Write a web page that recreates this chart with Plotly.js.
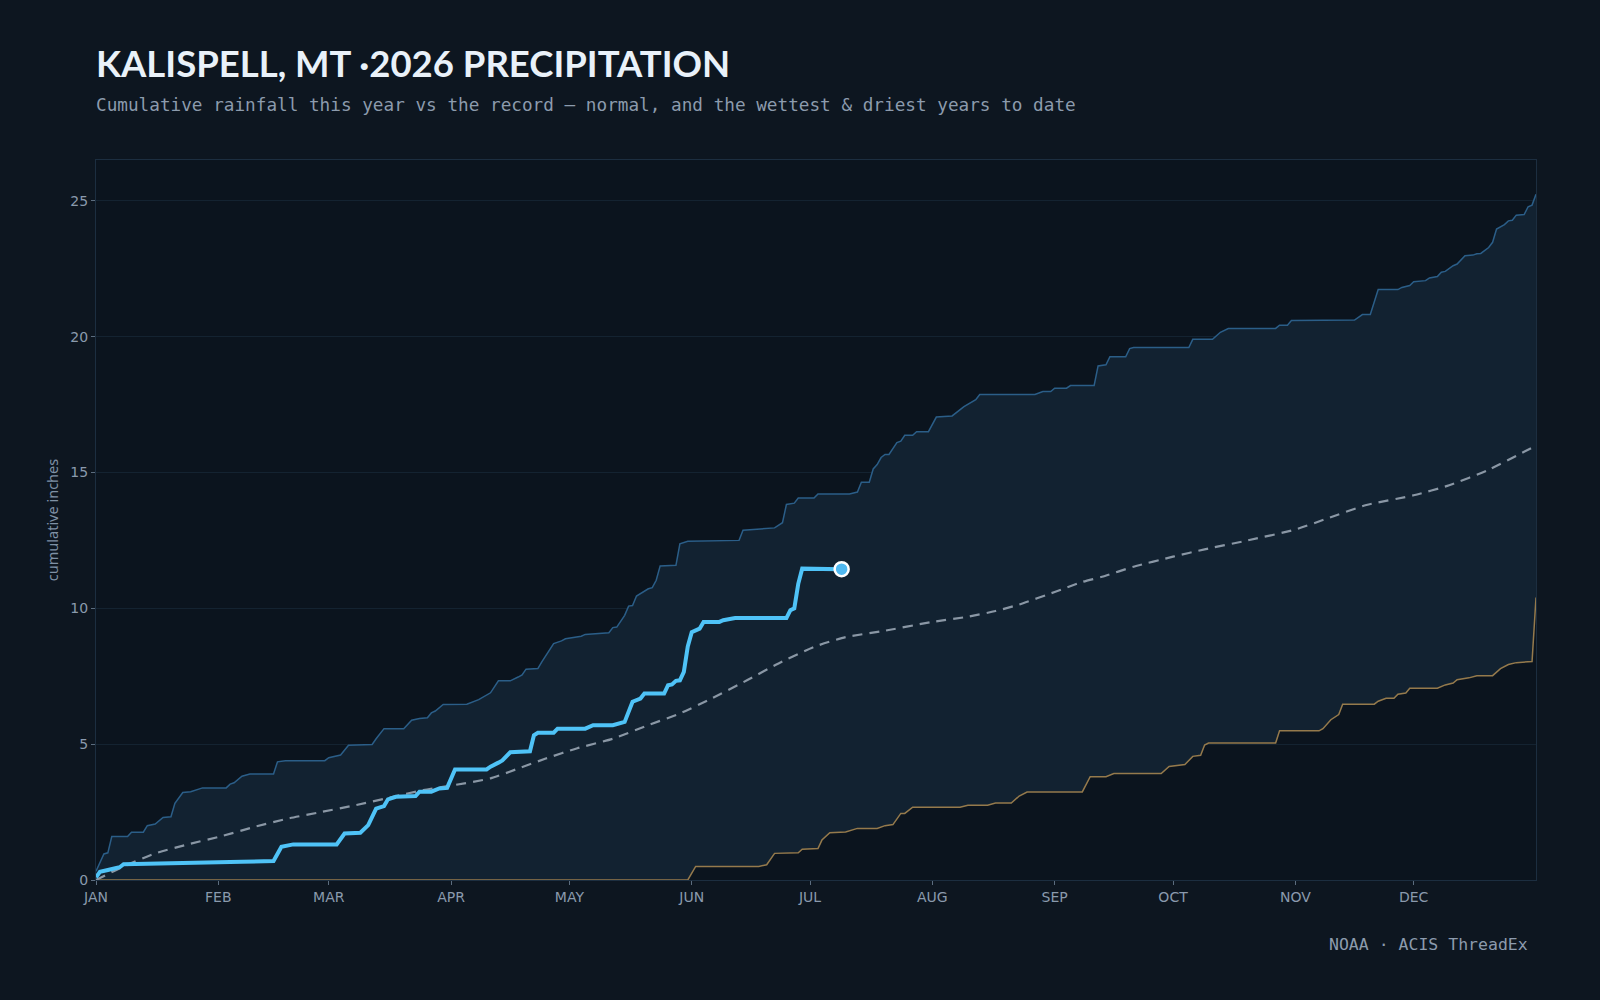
<!DOCTYPE html>
<html>
<head>
<meta charset="utf-8">
<script src="https://cdn.plot.ly/plotly-3.0.1.min.js"></script>
<style>
  html, body { margin: 0; padding: 0; background: #0d1620; }
  #chart { width: 1600px; height: 1000px; }
</style>
</head>
<body>
<div id="chart"></div>
<script>
// ---- month axis ----
const monthStartDays = [0, 31, 59, 90, 120, 151, 181, 212, 243, 273, 304, 334];
const monthLabels = ["JAN", "FEB", "MAR", "APR", "MAY", "JUN", "JUL", "AUG", "SEP", "OCT", "NOV", "DEC"];
const yTicks = [0, 5, 10, 15, 20, 25];

// ---- 2026 year to date (day of year, cumulative inches) ----
const thisYearDay = [0, 1, 3, 5, 6, 7, 26, 28, 37, 45, 47, 50, 61, 63, 67, 69, 71, 73, 74, 76, 81, 82, 85, 87, 89, 91, 99, 100, 102, 103, 105, 110, 111, 112, 116, 117, 124, 126, 131, 133, 134, 136, 138, 139, 144, 145, 146, 147, 148, 149, 150, 151, 152, 153, 154, 158, 159, 161, 162, 175, 176, 177, 178, 179, 189];
const thisYearIn = [0.10, 0.30, 0.37, 0.44, 0.47, 0.58, 0.61, 0.64, 0.67, 0.70, 1.22, 1.31, 1.31, 1.71, 1.74, 2.02, 2.63, 2.72, 2.97, 3.06, 3.09, 3.25, 3.25, 3.37, 3.39, 4.07, 4.07, 4.17, 4.32, 4.40, 4.70, 4.74, 5.33, 5.42, 5.42, 5.57, 5.57, 5.70, 5.70, 5.76, 5.82, 6.56, 6.68, 6.86, 6.86, 7.17, 7.20, 7.33, 7.35, 7.66, 8.60, 9.12, 9.19, 9.25, 9.50, 9.50, 9.56, 9.60, 9.64, 9.64, 9.93, 10.00, 10.90, 11.46, 11.44];

// ---- record wettest year to date ----
const wettestDay = [0, 2, 3, 4, 8, 9, 12, 13, 15, 17, 19, 20, 22, 24, 27, 33, 34, 35, 37, 39, 45, 46, 48, 58, 59, 62, 64, 70, 71, 73, 78, 80, 82, 84, 85, 86, 88, 94, 97, 100, 102, 105, 107, 108, 109, 112, 113, 116, 118, 119, 123, 124, 130, 131, 132, 134, 135, 136, 137, 140, 141, 142, 143, 147, 148, 150, 163, 164, 172, 174, 175, 177, 178, 182, 183, 191, 193, 194, 196, 197, 198, 199, 200, 201, 203, 204, 205, 207, 208, 211, 213, 217, 220, 223, 224, 238, 240, 242, 243, 246, 247, 253, 254, 256, 257, 261, 262, 263, 277, 278, 283, 285, 287, 299, 300, 302, 303, 319, 321, 323, 325, 330, 331, 333, 334, 337, 338, 340, 341, 342, 344, 345, 347, 349, 350, 351, 353, 354, 355, 357, 358, 359, 360, 362, 363, 364, 365];
const wettestIn = [0.32, 0.96, 1.00, 1.60, 1.60, 1.76, 1.76, 2.00, 2.06, 2.30, 2.33, 2.82, 3.22, 3.25, 3.39, 3.39, 3.53, 3.58, 3.82, 3.90, 3.90, 4.35, 4.39, 4.39, 4.50, 4.60, 4.96, 4.99, 5.20, 5.57, 5.57, 5.88, 5.94, 5.97, 6.15, 6.22, 6.46, 6.47, 6.64, 6.89, 7.33, 7.33, 7.47, 7.55, 7.76, 7.78, 8.03, 8.70, 8.80, 8.88, 8.97, 9.04, 9.10, 9.29, 9.31, 9.74, 10.08, 10.10, 10.45, 10.72, 10.76, 11.03, 11.56, 11.58, 12.37, 12.47, 12.50, 12.87, 12.96, 13.15, 13.82, 13.87, 14.06, 14.06, 14.21, 14.21, 14.28, 14.64, 14.64, 15.13, 15.29, 15.55, 15.66, 15.66, 16.10, 16.15, 16.37, 16.37, 16.50, 16.50, 17.04, 17.08, 17.42, 17.68, 17.87, 17.87, 17.98, 17.98, 18.10, 18.10, 18.20, 18.20, 18.92, 18.96, 19.26, 19.26, 19.56, 19.60, 19.60, 19.90, 19.90, 20.16, 20.30, 20.30, 20.42, 20.42, 20.59, 20.61, 20.81, 20.81, 21.73, 21.73, 21.81, 21.88, 22.02, 22.06, 22.16, 22.21, 22.37, 22.40, 22.61, 22.67, 22.98, 23.00, 23.05, 23.06, 23.28, 23.47, 23.96, 24.12, 24.26, 24.28, 24.47, 24.49, 24.78, 24.84, 25.24];

// ---- record driest year to date ----
const driestDay = [0, 150, 152, 168, 170, 172, 178, 179, 183, 184, 186, 190, 193, 198, 200, 202, 204, 205, 207, 219, 221, 226, 228, 232, 234, 236, 250, 252, 256, 258, 270, 272, 276, 278, 280, 281, 282, 299, 300, 310, 311, 313, 315, 316, 324, 325, 327, 329, 330, 332, 333, 340, 342, 344, 345, 348, 350, 354, 356, 358, 360, 364, 365];
const driestIn = [0, 0, 0.50, 0.50, 0.56, 0.98, 1.00, 1.13, 1.16, 1.47, 1.74, 1.77, 1.90, 1.90, 2.00, 2.04, 2.45, 2.45, 2.68, 2.68, 2.75, 2.75, 2.83, 2.83, 3.09, 3.24, 3.24, 3.80, 3.80, 3.92, 3.92, 4.18, 4.25, 4.55, 4.59, 4.97, 5.04, 5.04, 5.49, 5.49, 5.57, 5.90, 6.09, 6.47, 6.47, 6.58, 6.69, 6.69, 6.84, 6.88, 7.06, 7.06, 7.18, 7.25, 7.37, 7.44, 7.52, 7.52, 7.78, 7.93, 8.00, 8.04, 10.40];

// ---- normal ----
const normalDay = [0, 7, 15, 23, 32, 40, 49, 57, 66, 75, 83, 91, 100, 107, 114, 122, 131, 140, 148, 156, 165, 173, 182, 190, 199, 212, 221, 228, 234, 243, 250, 255, 263, 273, 281, 291, 304, 312, 322, 334, 343, 353, 365];
const normalIn = [0, 0.50, 0.98, 1.30, 1.62, 1.95, 2.27, 2.50, 2.76, 3.05, 3.31, 3.50, 3.74, 4.10, 4.47, 4.85, 5.20, 5.70, 6.13, 6.68, 7.35, 7.97, 8.58, 8.94, 9.15, 9.50, 9.69, 9.90, 10.14, 10.60, 10.97, 11.16, 11.53, 11.90, 12.17, 12.47, 12.90, 13.30, 13.80, 14.16, 14.53, 15.10, 15.99];

// ---- text ----
const titleText = "KALISPELL, MT ·2026 PRECIPITATION";
const subtitleText = "Cumulative rainfall this year vs the record — normal, and the wettest & driest years to date";
const sourceText = "NOAA · ACIS ThreadEx";
const yTitleText = "cumulative inches";

const lastIdx = thisYearDay.length - 1;

const traces = [
  {
    x: driestDay, y: driestIn, type: "scatter", mode: "lines",
    line: { color: "#957a4c", width: 1.5 },
    hoverinfo: "skip", name: "driest"
  },
  {
    x: wettestDay, y: wettestIn, type: "scatter", mode: "lines",
    fill: "tonexty", fillcolor: "#122231",
    line: { color: "#2b5e88", width: 1.5 },
    hoverinfo: "skip", name: "wettest"
  },
  {
    x: normalDay, y: normalIn, type: "scatter", mode: "lines",
    line: { color: "#8a97a5", width: 2.2, dash: "10px,7px", shape: "spline", smoothing: 0.6 },
    hoverinfo: "skip", name: "normal"
  },
  {
    x: thisYearDay, y: thisYearIn, type: "scatter", mode: "lines",
    line: { color: "#4fc3f7", width: 4 },
    hoverinfo: "skip", name: "2026"
  },
  {
    x: [thisYearDay[lastIdx]], y: [thisYearIn[lastIdx]], type: "scatter", mode: "markers",
    marker: { size: 14, color: "#4fb8f0", line: { color: "#ffffff", width: 2.5 } },
    hoverinfo: "skip", name: "today"
  }
];

const tickFont = { family: "DejaVu Sans, sans-serif", size: 14, color: "#8a9aad" };

const layout = {
  width: 1600, height: 1000,
  margin: { l: 96, r: 64, t: 160, b: 120, pad: 0 },
  paper_bgcolor: "#0d1620",
  plot_bgcolor: "#0b141e",
  showlegend: false,
  title: {
    text: titleText,
    xref: "container", yref: "container",
    x: 96 / 1600, xanchor: "left",
    y: 1 - 64 / 1000, yanchor: "middle",
    font: { family: "Lato, Inter, sans-serif", size: 36.5, weight: 700, color: "#e9f1f9" }
  },
  xaxis: {
    range: [0, 365],
    tickmode: "array", tickvals: monthStartDays, ticktext: monthLabels,
    ticks: "outside", ticklen: 4, tickwidth: 1, tickcolor: "#5c6d7f",
    tickfont: tickFont,
    showgrid: false, zeroline: false,
    showline: true, mirror: true, linecolor: "#1c2e40", linewidth: 1
  },
  yaxis: {
    range: [0, 26.5],
    tickmode: "array", tickvals: yTicks,
    ticks: "outside", ticklen: 4, tickwidth: 1, tickcolor: "#5c6d7f",
    tickfont: tickFont,
    showgrid: true, gridcolor: "#142331", gridwidth: 1,
    zeroline: false,
    showline: true, mirror: true, linecolor: "#1c2e40", linewidth: 1,
    title: { text: yTitleText, standoff: 8, font: { family: "Noto Sans, sans-serif", size: 14.5, color: "#7f91a5" } }
  },
  annotations: [
    {
      text: subtitleText, xref: "paper", yref: "paper",
      x: 0, xanchor: "left", y: (880 - 105) / 720, yanchor: "middle", xshift: -2,
      showarrow: false,
      font: { family: "DejaVu Sans Mono, monospace", size: 17.7, color: "#8c9bad" }
    },
    {
      text: sourceText, xref: "paper", yref: "paper",
      x: (1528 - 96) / 1440, xanchor: "right", y: (880 - 945) / 720, yanchor: "middle", xshift: 2,
      showarrow: false,
      font: { family: "DejaVu Sans Mono, monospace", size: 16.5, color: "#8c9bad" }
    }
  ]
};

Plotly.newPlot("chart", traces, layout, { displayModeBar: false, staticPlot: true });
</script>
</body>
</html>
